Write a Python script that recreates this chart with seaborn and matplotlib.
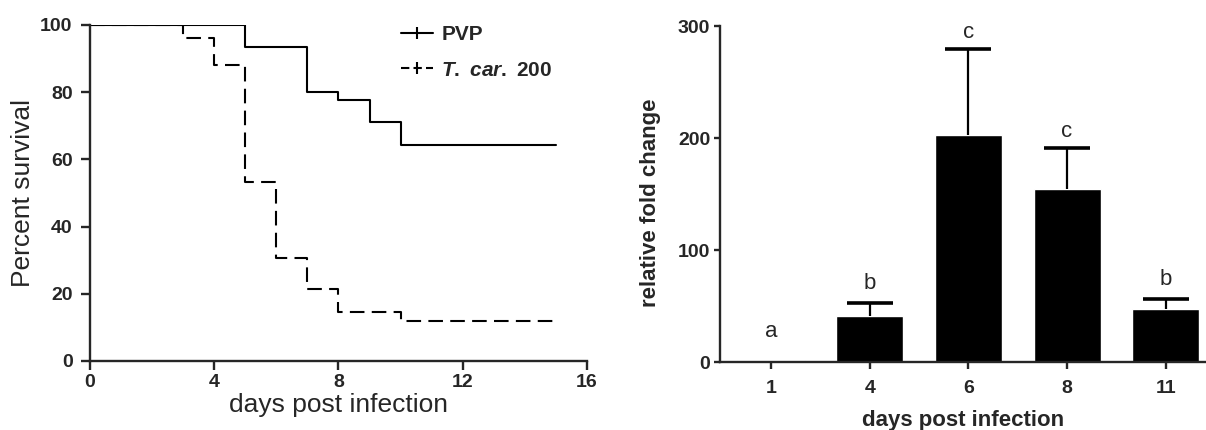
import matplotlib
matplotlib.use("Agg")
import matplotlib.pyplot as plt
import numpy as np
import pandas as pd
import seaborn as sns
from matplotlib.lines import Line2D

# Survival curves (Kaplan-Meier steps)
pvp_days = [0, 5, 7, 8, 9, 10, 15]
pvp_surv = [100, 93.3, 80.0, 77.8, 71.1, 64.4, 64.4]
tcar_days = [0, 3, 4, 5, 6, 7, 8, 10, 15]
tcar_surv = [100, 96.0, 88.0, 53.3, 30.7, 21.3, 14.7, 12.0, 12.0]

# Relative fold change
fc_days = ["1", "4", "6", "8", "11"]
fc_mean = [2.5, 41.7, 203.0, 154.8, 47.6]
fc_err = [np.nan, 11.3, 76.8, 36.2, 8.9]  # day 1 error not visible
fc_letters = ["a", "b", "c", "c", "b"]
letter_pad = [16, 10, 8, 8, 10]  # points above error cap

sns.set_style("ticks")
plt.rcParams["font.family"] = ["Liberation Sans", "DejaVu Sans"]
plt.rcParams["mathtext.fontset"] = "custom"
plt.rcParams["mathtext.it"] = "Liberation Sans:italic:bold"
plt.rcParams["mathtext.rm"] = "Liberation Sans:bold"

fig = plt.figure(figsize=(12.06, 4.3), dpi=100)
ax1 = fig.add_axes([0.0746, 0.1605, 0.4121, 0.7814])
ax2 = fig.add_axes([0.597, 0.1574, 0.403, 0.7821])

# ---- left: survival
sns.lineplot(x=pvp_days, y=pvp_surv, ax=ax1, color="black", lw=1.5,
             drawstyle="steps-post", estimator=None)
sns.lineplot(x=tcar_days, y=tcar_surv, ax=ax1, color="black", lw=1.5,
             drawstyle="steps-post", estimator=None, linestyle=(0, (7, 3.5)))
ax1.set_xlim(0, 16)
ax1.set_ylim(0, 100)
ax1.set_xticks([0, 4, 8, 12, 16])
ax1.set_yticks([0, 20, 40, 60, 80, 100])
ax1.set_xlabel("days post infection", fontsize=19, labelpad=1)
ax1.set_ylabel("Percent survival", fontsize=19, labelpad=4)

handles = [
    Line2D([], [], color="black", lw=1.5, marker="|", markersize=9, markeredgewidth=1.5),
    Line2D([], [], color="black", lw=1.5, linestyle=(0, (4, 2)), marker="|",
           markersize=9, markeredgewidth=1.5),
]
ax1.legend(handles, ["PVP", r"$\mathit{T.\ car.}$ 200"], loc="upper left",
           bbox_to_anchor=(0.604, 1.03), frameon=False, borderpad=0,
           handlelength=1.55, handletextpad=0.4, labelspacing=0.78,
           prop={"size": 15, "weight": "bold"}, numpoints=1)

# ---- right: fold change
df = pd.DataFrame({"day": fc_days, "fc": fc_mean})
sns.barplot(data=df, x="day", y="fc", ax=ax2, color="black", width=0.68,
            errorbar=None, saturation=1)
pos = np.arange(len(fc_days))
err = np.array(fc_err)
eb = ax2.errorbar(pos, fc_mean, yerr=[np.zeros(len(err)), err], fmt="none",
                  ecolor="black", elinewidth=1.6, capsize=16.5, capthick=2.6)
eb.lines[1][0].set_visible(False)  # no cap at bar top
for i, (m, e, t) in enumerate(zip(fc_mean, np.nan_to_num(err), fc_letters)):
    ax2.annotate(t, (pos[i], m + e), xytext=(0, letter_pad[i]),
                 textcoords="offset points", ha="center", va="baseline",
                 fontsize=16)
ax2.set_xlim(-0.517, 4.407)
ax2.set_ylim(0, 300)
ax2.set_yticks([0, 100, 200, 300])
ax2.set_xlabel("days post infection", fontsize=16, fontweight="bold", labelpad=9)
ax2.set_ylabel("relative fold change", fontsize=16, fontweight="bold")
ax2.yaxis.set_label_coords(-0.121, 0.475)

for ax in (ax1, ax2):
    sns.despine(ax=ax)
    for s in ("left", "bottom"):
        ax.spines[s].set_linewidth(1.7)
    ax.tick_params(width=1.7, length=6.5, labelsize=14, pad=3)
    for lab in ax.get_xticklabels() + ax.get_yticklabels():
        lab.set_fontweight("bold")
ax1.tick_params(axis="y", pad=6)
ax2.tick_params(axis="y", length=4)
ax2.tick_params(axis="x", length=5, pad=8)

fig.savefig("out.png", dpi=100)
